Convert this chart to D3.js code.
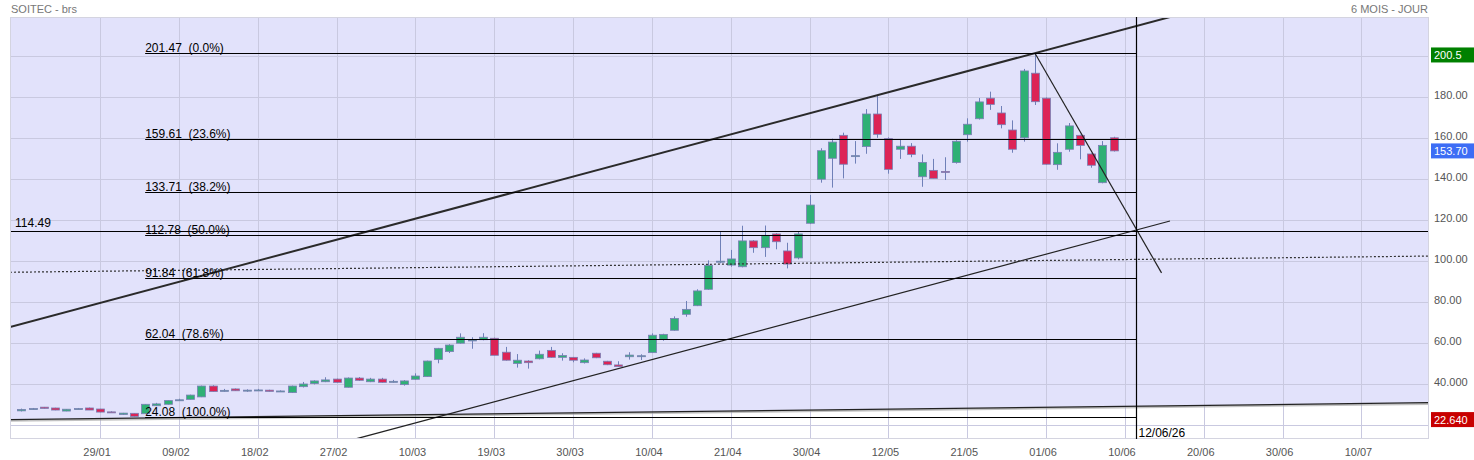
<!DOCTYPE html>
<html>
<head>
<meta charset="utf-8">
<script src="https://cdn.jsdelivr.net/npm/d3@7"></script>
<style>
body { margin: 0; background: #fff; }
svg text { font-family: Arial, "Liberation Sans", sans-serif; }
</style>
</head>
<body>
<svg id="chart" width="1474" height="460"></svg>
<script>
// Daily candles, index 0 = 20/01
const opens  = [26.9,27.9,28.7,28.3,26.8,27.9,28.3,27.8,26.4,25.1, 25.7,25.5,29.4,30.1,32.2,32.5,33.7,39.0,36.8,37.6,
                36.6,37.0,37.0,36.5,35.8,38.7,40.2,41.1,42.4,38.4, 42.9,41.1,42.4,41.2,39.7,42.3,43.6,52.0,55.8,59.9,
                61.4,61.6,62.3,55.5,50.0,51.2,52.3,56.4,53.0,53.0, 50.4,55.0,51.1,49.3,53.3,53.7,55.3,61.8,66.2,74.0,
                78.2,86.2,99.7,98.0,97.2,109.8,106.5,113.2,104.9,101.5, 118.4,139.9,150.1,161.3,151.2,155.8,171.7,159.7,154.5,156.0,
                141.1,144.2,143.7,148.0,161.6,169.4,179.4,172.2,163.9,160.1, 191.6,179.4,147.0,154.5,161.3,152.2,138.2,160.1];
const highs  = [28.0,28.3,28.8,28.4,27.8,28.3,28.5,27.9,26.7,25.9, 25.7,30.2,30.8,32.0,32.8,34.8,39.2,39.4,37.6,37.8,
                37.4,37.6,37.2,36.9,39.2,41.0,41.8,43.3,42.6,43.2, 43.4,43.0,43.0,42.0,41.9,45.2,51.4,57.6,59.4,64.7,
                62.8,64.8,62.6,58.1,54.6,51.6,56.3,58.1,55.0,53.2, 52.5,55.2,51.3,51.1,55.5,54.5,64.7,64.5,73.0,80.5,
                86.2,100.3,114.6,105.4,117.2,110.2,117.3,113.6,108.9,114.1, 132.2,155.0,159.7,162.6,158.5,174.1,180.6,160.3,159.5,157.5,
                152.0,149.8,150.6,158.9,169.6,179.5,182.6,175.6,168.6,193.7, 201.47,179.8,157.4,167.3,161.6,152.5,158.5,160.6];
const lows   = [26.6,27.6,28.0,27.2,26.7,27.7,27.3,26.2,26.0,24.9, 24.08,25.4,29.2,30.0,32.0,32.4,33.6,36.2,36.3,36.6,
                36.2,36.7,36.3,36.2,35.6,38.3,39.8,40.9,40.6,38.3, 41.5,40.9,40.6,40.7,39.2,42.1,43.5,50.1,55.1,59.7,
                57.2,61.3,54.0,51.4,48.0,47.5,52.0,52.8,51.4,50.6, 50.0,52.6,49.2,48.4,51.9,51.7,55.1,61.1,66.0,72.8,
                78.0,85.9,98.9,97.2,96.9,104.0,102.0,105.7,96.4,100.8, 118.0,138.2,135.8,140.3,147.5,152.3,160.1,142.6,149.8,150.6,
                136.2,140.3,139.5,147.5,158.2,169.0,173.7,164.7,152.8,158.2, 176.1,147.0,144.5,153.3,149.6,145.5,137.9,153.4];
const closes = [27.6,28.0,28.1,27.3,27.7,28.0,27.3,26.3,26.3,25.8, 24.2,30.1,30.3,31.9,32.3,34.6,39.0,36.3,36.9,36.7,
                37.0,37.1,36.4,36.6,39.0,40.0,41.5,42.0,40.8,42.9, 41.8,42.4,40.8,41.3,41.5,43.9,51.2,57.4,59.0,62.8,
                61.5,62.8,54.0,51.6,51.6,50.4,54.5,53.0,53.9,51.6, 51.7,52.8,49.4,48.5,54.1,53.8,63.8,64.2,72.0,76.4,
                85.4,97.9,99.9,101.0,109.8,106.5,112.5,109.4,98.5,113.2, 127.3,153.8,158.0,147.2,151.4,171.7,161.8,144.7,156.0,152.0,
                148.1,140.3,143.5,158.4,166.7,177.6,176.4,166.5,154.5,192.7, 177.7,147.2,153.0,165.9,156.4,146.7,156.4,153.70];

const xTickIdx    = [7,14,21,28,35,42,49,56,63,70,77,84,91,98,105,112,119];
const xTickLabels = ["29/01","09/02","18/02","27/02","10/03","19/03","30/03","10/04","21/04","30/04","12/05","21/05","01/06","10/06","20/06","30/06","10/07"];
const yGrid       = [20,40,60,80,100,120,140,160,180,200];
const yTickValues = [180,160,140,120,100,80,60,40];
const yTickLabels = ["180.00","160.00","140.00","120.00","100.00","80.00","60.00","40.000"];

// Fibonacci retracement
const fibLevels = [201.47,159.61,133.71,112.78,91.84,62.04,24.08];
const fibPct    = ["0.0%","23.6%","38.2%","50.0%","61.8%","78.6%","100.0%"];
const fibRange  = [11, 99];

// drawn lines as [index, value] pairs
const upperChannel = [[-1,67.8],[102,219.0]];
const lowerChannel = [[29.7,13.2],[102,119.5]];
const downLine     = [[90,201.47],[101.25,94.2]];
const supportLine  = [[-1,22.64],[125,30.9]];
const dottedLine   = [[-1,94.5],[125,102.4]];
const hLevel = 114.49;
const cursorIdx = 99, cursorLabel = "12/06/26";

const boxes = [
  { v: 200.5, text: "200.5", color: "#008000" },
  { v: 153.70, text: "153.70", color: "#3d6df5" },
  { v: 22.64, text: "22.640", color: "#c80000" }
];

const L = 10, R = 1429, T = 17, B = 439;
const svg = d3.select("#chart");
const x = d3.scaleLinear().domain([-1, 125]).range([L, R]);
const y = d3.scaleLinear().domain([13.17, 219.02]).range([B, T]);

svg.append("defs").append("clipPath").attr("id", "clip")
  .append("rect").attr("x", L).attr("y", T).attr("width", R - L).attr("height", B - T);

const plot = svg.append("g").attr("clip-path", "url(#clip)");

// lavender zone above the support line
plot.append("path")
  .attr("d", `M${x(supportLine[0][0])},${y(supportLine[0][1])}L${x(supportLine[1][0])},${y(supportLine[1][1])}L${R},${T}L${L},${T}Z`)
  .attr("fill", "#e2e2fb");

// grid
plot.selectAll(".gy").data(yGrid).enter().append("line")
  .attr("x1", L).attr("x2", R)
  .attr("y1", d => Math.round(y(d)) + 0.5).attr("y2", d => Math.round(y(d)) + 0.5)
  .attr("stroke", "#c9c9e0").attr("stroke-width", 1);
plot.selectAll(".gx").data(xTickIdx).enter().append("line")
  .attr("y1", T).attr("y2", B)
  .attr("x1", d => Math.round(x(d)) + 0.5).attr("x2", d => Math.round(x(d)) + 0.5)
  .attr("stroke", "#c9c9e0").attr("stroke-width", 1);

svg.append("rect").attr("x", L + 0.5).attr("y", T + 0.5).attr("width", R - L - 1).attr("height", B - T - 1)
  .attr("fill", "none").attr("stroke", "#d4d4e0");

// candles
const candles = opens.map((o, i) => ({ i, o, h: highs[i], l: lows[i], c: closes[i] }));
const bodyW = 8;
const cg = plot.append("g");
cg.selectAll(".wick").data(candles).enter().append("line")
  .attr("x1", d => Math.round(x(d.i)) + 0.5).attr("x2", d => Math.round(x(d.i)) + 0.5)
  .attr("y1", d => y(d.h)).attr("y2", d => y(d.l))
  .attr("stroke", "#6f80b8").attr("stroke-width", 1);
cg.selectAll(".body").data(candles).enter().append("rect")
  .attr("x", d => Math.round(x(d.i)) - bodyW / 2 + 0.5)
  .attr("y", d => y(Math.max(d.o, d.c)))
  .attr("width", bodyW)
  .attr("height", d => Math.max(1, Math.abs(y(d.o) - y(d.c))))
  .attr("fill", d => d.c >= d.o ? "#2fb075" : "#dc2456")
  .attr("stroke", "#7a7fb5").attr("stroke-width", 0.8);

// lines
const line = d3.line().x(d => x(d[0])).y(d => y(d[1]));
plot.append("path").attr("d", line(supportLine.map(p => [p[0], p[1] - 0.6])))
  .attr("stroke", "#999").attr("stroke-width", 2).attr("fill", "none").attr("opacity", 0.6);
plot.append("path").attr("d", line(supportLine)).attr("stroke", "#222").attr("stroke-width", 1.2).attr("fill", "none");
plot.append("path").attr("d", line(upperChannel)).attr("stroke", "#2a2a2a").attr("stroke-width", 2).attr("fill", "none");
plot.append("path").attr("d", line(lowerChannel)).attr("stroke", "#222").attr("stroke-width", 1.2).attr("fill", "none");
plot.append("path").attr("d", line(downLine)).attr("stroke", "#222").attr("stroke-width", 1.2).attr("fill", "none");
plot.append("path").attr("d", line(dottedLine)).attr("stroke", "#333").attr("stroke-width", 1.2)
  .attr("stroke-dasharray", "2,2").attr("fill", "none");

plot.append("line").attr("x1", L).attr("x2", R)
  .attr("y1", Math.round(y(hLevel)) + 0.5).attr("y2", Math.round(y(hLevel)) + 0.5)
  .attr("stroke", "#000").attr("stroke-width", 1.2);
svg.append("text").attr("x", 15).attr("y", Math.round(y(hLevel)) - 4)
  .attr("font-size", 12).attr("fill", "#000").text(hLevel.toFixed(2));

// fibonacci
const fg = plot.append("g");
fibLevels.forEach((v, k) => {
  const yy = Math.round(y(v)) + 0.5;
  fg.append("line").attr("x1", x(fibRange[0])).attr("x2", x(fibRange[1]))
    .attr("y1", yy).attr("y2", yy).attr("stroke", "#000").attr("stroke-width", 1.2);
  fg.append("text").attr("x", x(fibRange[0])).attr("y", yy - 1.5)
    .attr("font-size", 12).attr("fill", "#000")
    .text(v.toFixed(2) + " \u00a0(" + fibPct[k] + ")");
});

// cursor line
const cx = Math.round(x(cursorIdx)) + 0.5;
svg.append("line").attr("x1", cx).attr("x2", cx).attr("y1", T).attr("y2", B)
  .attr("stroke", "#000").attr("stroke-width", 1.2);
svg.append("text").attr("x", cx + 2).attr("y", 437).attr("font-size", 12).attr("fill", "#000").text(cursorLabel);

// axes labels
svg.selectAll(".yl").data(yTickValues).enter().append("text")
  .attr("x", 1434).attr("y", d => y(d) + 2)
  .attr("font-size", 11).attr("fill", "#555")
  .text((d, i) => yTickLabels[i]);
svg.selectAll(".xl").data(xTickIdx).enter().append("text")
  .attr("x", d => x(d) - 3).attr("y", 456)
  .attr("text-anchor", "middle")
  .attr("font-size", 11).attr("fill", "#555")
  .text((d, i) => xTickLabels[i]);

// value boxes on the right
const bg = svg.selectAll(".box").data(boxes).enter().append("g");
bg.append("rect").attr("x", 1431).attr("y", d => y(d.v) - 7.5).attr("width", 43).attr("height", 15)
  .attr("fill", d => d.color);
bg.append("text").attr("x", 1434).attr("y", d => y(d.v) + 4)
  .attr("font-size", 11).attr("fill", "#fff").text(d => d.text);

// titles
svg.append("text").attr("x", 11).attr("y", 13).attr("font-size", 11).attr("fill", "#777").text("SOITEC - brs");
svg.append("text").attr("x", 1428).attr("y", 13).attr("text-anchor", "end").attr("font-size", 11).attr("fill", "#777").text("6 MOIS - JOUR");
</script>
</body>
</html>
